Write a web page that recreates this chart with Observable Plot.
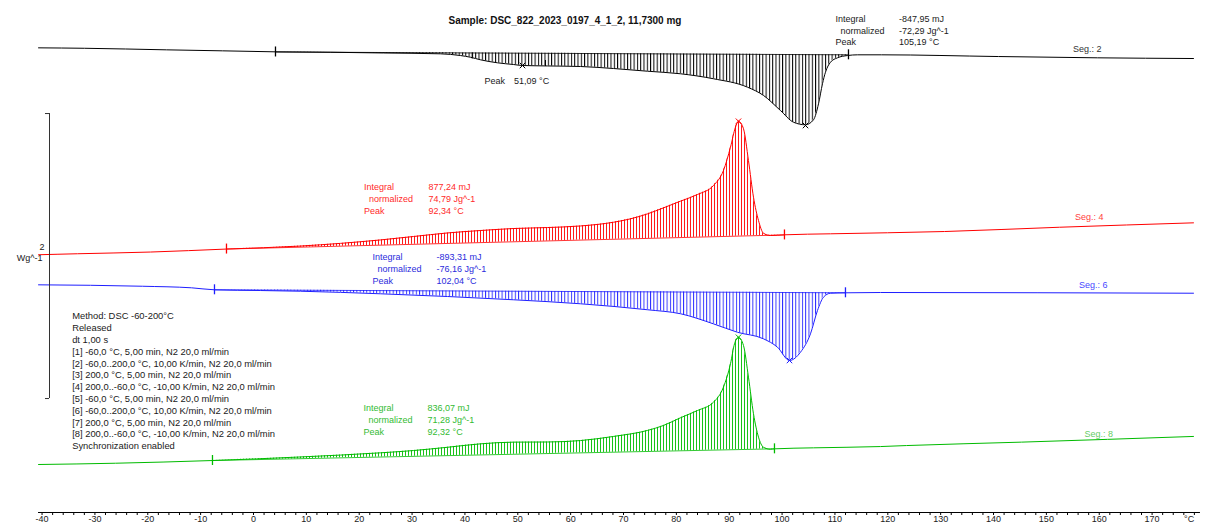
<!DOCTYPE html>
<html><head><meta charset="utf-8">
<script src="https://cdn.jsdelivr.net/npm/d3@7"></script>
<script src="https://cdn.jsdelivr.net/npm/@observablehq/plot@0.6"></script>
<style>body{margin:0;background:#fff} svg{display:block}</style>
</head><body><div id="chart"></div>
<script>
// ---- Data (temperature in °C, heat flow in W/g, segments displaced vertically) ----
const titleText = "Sample: DSC_822_2023_0197_4_1_2, 11,7300 mg";

const seg2T  = [-40.67,-31.97,-16.46,-5.86,4.16,14.57,24.59,35.38,39.16,41.05,42.94,46.16,49.19,50.89,55.62,61.86,68.10,74.54,80.78,87.02,93.45,96.48,99.70,102.16,104.43,105.94,106.89,107.64,108.21,109.16,110.48,112.37,114.26,118.80,140.94,159.67,177.83];
const seg2HF = [3.352,3.349,3.338,3.331,3.324,3.321,3.316,3.310,3.298,3.286,3.268,3.247,3.235,3.228,3.225,3.221,3.207,3.188,3.170,3.135,3.076,3.018,2.912,2.830,2.812,2.847,2.959,3.100,3.181,3.251,3.282,3.298,3.303,3.303,3.291,3.282,3.277];
const seg2IntT = [4.16, 112.56], seg2IntHF = [3.323, 3.303];
const seg2PeakT = [104.43, 50.89], seg2PeakHF = [2.807, 3.228];
const seg2SubT = [41.37, 55.24], seg2SubHF = [3.295, 3.242];

const seg4T  = [-40.67,-33.30,-19.49,-5.11,8.89,24.03,30.27,36.70,42.94,49.19,55.62,61.86,68.10,71.32,74.54,77.56,80.78,84.00,87.02,88.91,90.24,91.18,91.75,92.70,93.64,94.59,95.54,96.48,97.81,100.45,109.16,130.72,152.48,177.83];
const seg4HF = [1.900,1.907,1.919,1.940,1.961,2.004,2.028,2.053,2.070,2.084,2.091,2.102,2.128,2.152,2.187,2.229,2.276,2.323,2.386,2.491,2.655,2.795,2.837,2.784,2.561,2.304,2.140,2.051,2.035,2.040,2.047,2.063,2.093,2.124];
const seg4IntT = [-5.11, 100.45], seg4IntHF = [1.940, 2.039];
const seg4PeakT = [91.75], seg4PeakHF = [2.837];

const seg6T  = [-40.67,-21.00,-11.73,-7.38,1.32,8.89,16.46,24.03,36.70,49.19,61.86,74.54,80.78,87.02,91.56,96.48,99.13,101.40,103.48,105.37,106.70,107.83,109.16,111.99,118.62,177.83];
const seg6HF = [1.689,1.679,1.668,1.654,1.649,1.644,1.636,1.626,1.607,1.584,1.556,1.514,1.486,1.415,1.356,1.310,1.251,1.158,1.216,1.345,1.509,1.602,1.630,1.633,1.635,1.630];
const seg6IntT = [-7.38, 111.99], seg6IntHF = [1.654, 1.633];
const seg6PeakT = [101.40], seg6PeakHF = [1.158];

const seg8T  = [-40.67,-26.11,-7.76,8.89,24.03,30.27,36.70,42.94,49.19,55.62,61.86,68.10,74.54,77.56,80.78,84.00,87.02,88.91,90.24,91.00,91.75,92.70,93.64,94.59,95.54,96.48,97.81,98.56,105.94,118.62,123.53,145.29,177.83];
const seg8HF = [0.428,0.437,0.456,0.481,0.510,0.526,0.549,0.573,0.585,0.586,0.596,0.625,0.667,0.702,0.756,0.807,0.865,0.971,1.135,1.275,1.321,1.263,1.041,0.784,0.620,0.549,0.535,0.538,0.545,0.554,0.561,0.585,0.625];
const seg8IntT = [-7.76, 98.56], seg8IntHF = [0.456, 0.538];
const seg8PeakT = [91.75], seg8PeakHF = [1.321];

const segNames = ["Seg.: 2", "Seg.: 4", "Seg.: 6", "Seg.: 8"];
const segLabelT = [155.05, 155.41, 156.15, 157.23];
const segLabelHF = [3.340, 2.164, 1.684, 0.639];

const annLabels = ["Integral", "\u00a0\u00a0normalized", "Peak"];
const seg2Values = ["-847,95 mJ", "-72,29 Jg^-1", "105,19 °C"];
const seg4Values = ["877,24 mJ", "74,79 Jg^-1", "92,34 °C"];
const seg6Values = ["-893,31 mJ", "-76,16 Jg^-1", "102,04 °C"];
const seg8Values = ["836,07 mJ", "71,28 Jg^-1", "92,32 °C"];
const annLabelT = [110.10, 20.92, 22.51, 20.81];
const annValueT = [122.12, 33.11, 34.62, 32.92];
const annMidHF  = [3.479, 2.297, 1.806, 0.746];

const methodLines = [
  "Method: DSC -60-200°C",
  "Released",
  "dt 1,00 s",
  "[1] -60,0 °C, 5,00 min, N2 20,0 ml/min",
  "[2] -60,0..200,0 °C, 10,00 K/min, N2 20,0 ml/min",
  "[3] 200,0 °C, 5,00 min, N2 20,0 ml/min",
  "[4] 200,0..-60,0 °C, -10,00 K/min, N2 20,0 ml/min",
  "[5] -60,0 °C, 5,00 min, N2 20,0 ml/min",
  "[6] -60,0..200,0 °C, 10,00 K/min, N2 20,0 ml/min",
  "[7] 200,0 °C, 5,00 min, N2 20,0 ml/min",
  "[8] 200,0..-60,0 °C, -10,00 K/min, N2 20,0 ml/min",
  "Synchronization enabled"
];

const xTickLabels = [-40,-30,-20,-10,0,10,20,30,40,50,60,70,80,90,100,110,120,130,140,150,160,170];
const xMinorTicks = d3.range(-40, 179, 2);
const axisUnit = "°C";
const scaleBarValue = 2;        // W/g
const scaleBarUnit = "Wg^-1";

// ---- Build ----
const segs = [
  {T: seg2T, HF: seg2HF, intT: seg2IntT, intHF: seg2IntHF, pT: seg2PeakT, pHF: seg2PeakHF, vals: seg2Values,
   line: "#000000", text: "#1a1a1a", seg: "#333333", hatch: "hatch-k"},
  {T: seg4T, HF: seg4HF, intT: seg4IntT, intHF: seg4IntHF, pT: seg4PeakT, pHF: seg4PeakHF, vals: seg4Values,
   line: "#ff0000", text: "#ff2a2a", seg: "#ff4040", hatch: "hatch-r"},
  {T: seg6T, HF: seg6HF, intT: seg6IntT, intHF: seg6IntHF, pT: seg6PeakT, pHF: seg6PeakHF, vals: seg6Values,
   line: "#1e1eff", text: "#2b2bdc", seg: "#4848ff", hatch: "hatch-b"},
  {T: seg8T, HF: seg8HF, intT: seg8IntT, intHF: seg8IntHF, pT: seg8PeakT, pHF: seg8PeakHF, vals: seg8Values,
   line: "#00bb00", text: "#33bb33", seg: "#66cc66", hatch: "hatch-g"}
];

const pxPerUnit = 142.5;          // from the 2 W/g scale bar
const yMin = 13 / pxPerUnit, yMax = 525 / pxPerUnit;
const hfPx = px => px / pxPerUnit; // vertical size helper (W/g per pixel)

function rows(T, HF) { return T.map((t, i) => ({T: t, HF: HF[i]})); }
function hatchRows(s) {
  const [t0, t1] = s.intT, [b0, b1] = s.intHF;
  const base = t => b0 + (b1 - b0) * (t - t0) / (t1 - t0);
  const inner = rows(s.T, s.HF).filter(d => d.T > t0 && d.T < t1);
  return [{T: t0, HF: b0}, ...inner, {T: t1, HF: b1}].map(d => ({...d, base: base(d.T)}));
}

const marks = [];
segs.forEach((s, k) => {
  const h = hatchRows(s);
  marks.push(Plot.areaY(h, {x: "T", y1: "base", y2: "HF", fill: `url(#${s.hatch})`, curve: "monotone-x"}));
  marks.push(Plot.line(rows(s.intT, s.intHF), {x: "T", y: "HF", stroke: s.line, strokeWidth: 0.8}));
  marks.push(Plot.line(rows(s.T, s.HF), {x: "T", y: "HF", stroke: s.line, strokeWidth: 1, curve: "monotone-x"}));
  marks.push(Plot.ruleX(rows(s.intT, s.intHF), {x: "T", y1: d => d.HF - hfPx(5), y2: d => d.HF + hfPx(5), stroke: s.line, strokeWidth: 1.3}));
  marks.push(Plot.dot(rows(s.pT, s.pHF), {x: "T", y: "HF", symbol: "times", r: 2.6, stroke: s.line, strokeWidth: 1}));
  marks.push(Plot.text([{T: segLabelT[k], HF: segLabelHF[k], t: segNames[k]}], {x: "T", y: "HF", text: "t", textAnchor: "start", fill: s.seg, fontSize: 9}));
  marks.push(Plot.text([
      {T: annLabelT[k], HF: annMidHF[k], t: annLabels.join("\n")},
      {T: annValueT[k], HF: annMidHF[k], t: s.vals.join("\n")}
    ], {x: "T", y: "HF", text: "t", textAnchor: "start", lineAnchor: "middle", lineHeight: 1.31, fill: s.text, fontSize: 9}));
});
// small partial-integration ticks on segment 2
marks.push(Plot.ruleX(rows(seg2SubT, seg2SubHF), {x: "T", y1: d => d.HF - hfPx(3), y2: d => d.HF + hfPx(3), stroke: "#000", strokeWidth: 1}));
marks.push(Plot.text([{T: 43.70, HF: 3.118, t: "Peak"}, {T: 49.30, HF: 3.118, t: "51,09 °C"}],
  {x: "T", y: "HF", text: "t", textAnchor: "start", fill: "#1a1a1a", fontSize: 9}));

// title
marks.push(Plot.text([{T: 36.89, HF: 3.544, t: titleText}], {x: "T", y: "HF", text: "t", textAnchor: "start", fontWeight: "bold", fontSize: 10, fill: "#111"}));

// method block
marks.push(Plot.text([{T: -34.31, HF: 1.505, t: methodLines.join("\n")}], {x: "T", y: "HF", text: "t", textAnchor: "start", lineAnchor: "top", lineHeight: 1.255, fontSize: 9.4, fill: "#1a1a1a"}));

// scale bar (2 W/g)
const barT = -38.59, barTop = 2.891, barBot = barTop - scaleBarValue;
marks.push(Plot.ruleX([{T: barT, y1: barBot, y2: barTop}], {x: "T", y1: "y1", y2: "y2", stroke: "#333", strokeWidth: 1}));
marks.push(Plot.ruleY([{v: barTop}, {v: barBot}], {y: "v", x1: -39.35, x2: barT, stroke: "#333", strokeWidth: 1}));
marks.push(Plot.text([{T: -39.54, HF: 1.951, t: String(scaleBarValue)}, {T: -39.92, HF: 1.874, t: scaleBarUnit}],
  {x: "T", y: "HF", text: "t", textAnchor: "end", fontSize: 9, fill: "#1a1a1a"}));

// x axis
marks.push(Plot.ruleY([{v: yMin}], {y: "v", x1: -40.67, x2: 179.15, stroke: "#000", strokeWidth: 1}));
marks.push(Plot.ruleX(xMinorTicks, {x: d => d, y1: yMin, y2: yMin - hfPx(3), stroke: "#000", strokeWidth: 1}));
marks.push(Plot.text(xTickLabels, {x: d => d, y: yMin - hfPx(7), text: d => String(d), fontSize: 9, fill: "#1a1a1a"}));
marks.push(Plot.text([{T: 177, t: axisUnit}], {x: "T", y: yMin - hfPx(7), text: "t", fontSize: 9, fill: "#1a1a1a"}));

const chart = Plot.plot({
  width: 1205, height: 525,
  marginLeft: 41.56, marginRight: 53.4, marginTop: 0, marginBottom: 13,
  x: {domain: [-40, 170], axis: null},
  y: {domain: [yMin, yMax], axis: null},
  style: {fontFamily: "'Liberation Sans', Arial, sans-serif", fontSize: "9px", background: "#fff", overflow: "visible"},
  marks
});

// hatch patterns
const hatchDefs = [["hatch-k", "#000000", 3.3, 1], ["hatch-r", "#ff0000", 3.0, 0.9], ["hatch-b", "#1e1eff", 3.3, 0.9], ["hatch-g", "#00bb00", 3.0, 0.9]];
const defs = document.createElementNS("http://www.w3.org/2000/svg", "defs");
defs.innerHTML = hatchDefs.map(([id, c, w, sw]) =>
  `<pattern id="${id}" patternUnits="userSpaceOnUse" width="${w}" height="10"><line x1="0.5" y1="0" x2="0.5" y2="10" stroke="${c}" stroke-width="${sw}"/></pattern>`).join("");
chart.prepend(defs);
document.getElementById("chart").append(chart);
</script>
</body></html>
